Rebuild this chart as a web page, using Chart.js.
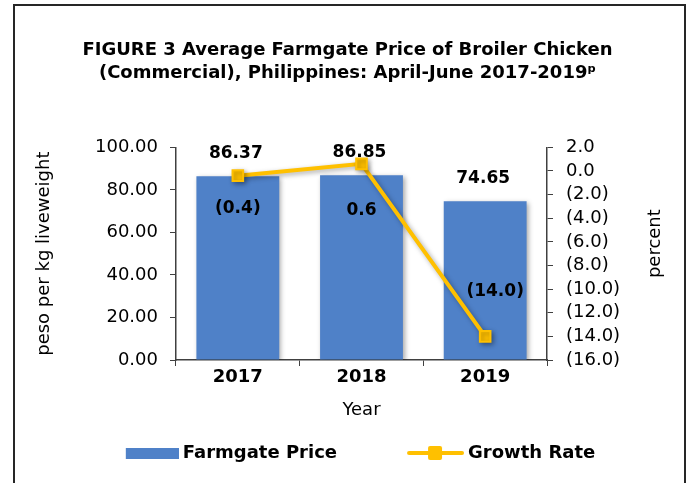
<!DOCTYPE html>
<html>
<head>
<meta charset="utf-8">
<script src="https://cdn.jsdelivr.net/npm/chart.js@4.4.1/dist/chart.umd.min.js"></script>
<style>
  html, body { margin: 0; padding: 0; background: #fff; }
  #wrap { position: relative; width: 695px; height: 483px; }
</style>
</head>
<body>
<div id="wrap"><canvas id="c" width="695" height="483"></canvas></div>
<script>
// ---- data ----
const categories = ['2017', '2018', '2019'];
const farmgatePrice = [86.37, 86.85, 74.65];
const growthRate = [-0.4, 0.6, -14.0];
const leftTicks = { min: 0, max: 100, step: 20 };
const rightTicks = { min: -16, max: 2, step: 2 };

const FONT = '"DejaVu Sans", "Liberation Sans", Arial, sans-serif';
const BAR_COLOR = '#4F81C8';
const LINE_COLOR = '#FFC000';

function fmtPct(v) {
  const s = Math.abs(v).toFixed(1);
  return v < 0 ? '(' + s + ')' : s;
}

// legend icons (content right-aligned, overflowing the box by 5px to tighten the text gap)
const ICON_W = 112;
function makeIcon(kind) {
  const W = ICON_W + 10;
  const c = document.createElement('canvas');
  c.width = W; c.height = 16;
  const g = c.getContext('2d');
  if (kind === 'bar') {
    g.fillStyle = BAR_COLOR;
    g.fillRect(W - 53, 3, 53, 11);
  } else {
    g.strokeStyle = LINE_COLOR; g.lineWidth = 4; g.lineCap = 'round';
    g.beginPath(); g.moveTo(W - 55, 8); g.lineTo(W - 2, 8); g.stroke();
    g.fillStyle = LINE_COLOR;
    g.beginPath();
    if (g.roundRect) g.roundRect(W - 36, 1, 14, 14, 2); else g.rect(W - 36, 1, 14, 14);
    g.fill();
  }
  return c;
}
const barIcon = makeIcon('bar');
const lineIcon = makeIcon('line');

const labelPlugin = {
  id: 'valueLabels',
  afterDatasetsDraw(chart) {
    const ctx = chart.ctx;
    ctx.save();
    ctx.font = 'bold 17px ' + FONT;
    ctx.fillStyle = '#000';
    ctx.textAlign = 'center';
    ctx.textBaseline = 'middle';
    const barMeta = chart.getDatasetMeta(0);
    barMeta.data.forEach((el, i) => {
      ctx.fillText(farmgatePrice[i].toFixed(2), el.x - 2, el.y - 23);
    });
    const lineMeta = chart.getDatasetMeta(1);
    const offs = [[0, 33], [0, 47], [10, -45]];
    lineMeta.data.forEach((el, i) => {
      ctx.fillText(fmtPct(growthRate[i]), el.x + offs[i][0], el.y + offs[i][1]);
    });
    ctx.restore();
  },
  afterDraw(chart) {
    const ctx = chart.ctx;
    ctx.save();
    const ys = chart.scales.y1;
    ctx.font = '18px ' + FONT;
    ctx.fillStyle = '#000';
    ctx.textAlign = 'center';
    ctx.textBaseline = 'middle';
    ctx.translate(655, (ys.top + ys.bottom) / 2 - 10);
    ctx.rotate(-Math.PI / 2);
    ctx.fillText('percent', 0, 0);
    ctx.restore();
    ctx.save();
    ctx.strokeStyle = '#262626';
    ctx.lineWidth = 2;
    ctx.strokeRect(14, 5, 671, 500);
    ctx.restore();
  },
  beforeDatasetDraw(chart) {
    const ctx = chart.ctx;
    ctx.save();
    ctx.shadowColor = 'rgba(0,0,0,0.35)';
    ctx.shadowBlur = 5;
    ctx.shadowOffsetX = 2;
    ctx.shadowOffsetY = 2;
  },
  afterDatasetDraw(chart) {
    chart.ctx.restore();
  },
  afterLayout(chart) {
    const dx = -19;
    if (chart.legend) { chart.legend.left += dx; chart.legend.right += dx; }
  }
};

new Chart(document.getElementById('c'), {
  data: {
    labels: categories,
    datasets: [
      {
        type: 'bar',
        label: 'Farmgate Price',
        data: farmgatePrice,
        backgroundColor: BAR_COLOR,
        yAxisID: 'y',
        order: 2,
        categoryPercentage: 1.0,
        barPercentage: 0.67
      },
      {
        type: 'line',
        label: 'Growth Rate',
        data: growthRate,
        borderColor: LINE_COLOR,
        backgroundColor: LINE_COLOR,
        borderWidth: 4,
        pointStyle: 'rect',
        pointRadius: 7.5,
        pointBorderWidth: 2,
        pointHoverRadius: 7.5,
        yAxisID: 'y1',
        order: 1,
        tension: 0
      }
    ]
  },
  options: {
    responsive: false,
    animation: false,
    devicePixelRatio: 1,
    layout: { padding: { left: 20, right: 20, top: 4, bottom: 11 } },
    plugins: {
      tooltip: { enabled: false },
      title: {
        display: true,
        text: ['FIGURE 3 Average Farmgate Price of Broiler Chicken', '(Commercial), Philippines: April-June 2017-2019ᵖ'],
        color: '#000',
        font: { family: FONT, size: 18, weight: 'bold', lineHeight: 1.3 },
        padding: { top: 34.5, bottom: 62 }
      },
      legend: {
        display: true,
        position: 'bottom',
        labels: {
          color: '#000',
          font: { family: FONT, size: 18, weight: 'bold' },
          usePointStyle: true,
          pointStyleWidth: ICON_W,
          padding: 10,
          generateLabels() {
            return [
              { text: 'Farmgate Price', pointStyle: barIcon, fillStyle: BAR_COLOR, strokeStyle: BAR_COLOR, lineWidth: 0, datasetIndex: 0 },
              { text: 'Growth Rate', pointStyle: lineIcon, fillStyle: LINE_COLOR, strokeStyle: LINE_COLOR, lineWidth: 0, datasetIndex: 1 }
            ];
          }
        }
      }
    },
    scales: {
      x: {
        grid: { display: true, drawOnChartArea: false, drawTicks: true, tickLength: 6, color: '#404040', offset: true },
        border: { display: true, color: '#404040', width: 1.5 },
        ticks: { color: '#000', font: { family: FONT, size: 18, weight: 'bold' }, padding: 1 },
        title: { display: true, text: 'Year', color: '#000', font: { family: FONT, size: 18 }, padding: { top: 4, bottom: 13 } },
        afterFit(scale) { scale.height = 74; }
      },
      y: {
        position: 'left',
        min: leftTicks.min, max: leftTicks.max,
        grid: { display: true, drawOnChartArea: false, drawTicks: true, tickLength: 6, color: '#404040' },
        border: { display: true, color: '#404040', width: 1.5 },
        ticks: {
          stepSize: leftTicks.step, color: '#000', padding: 12, autoSkip: false,
          font: { family: FONT, size: 18 },
          callback: v => Number(v).toFixed(2)
        },
        title: { display: true, text: 'peso per kg liveweight', color: '#000', font: { family: FONT, size: 18 }, padding: { top: 14, bottom: 0 } },
        afterFit(scale) { scale.width = 156; }
      },
      y1: {
        position: 'right',
        min: rightTicks.min, max: rightTicks.max,
        grid: { display: true, drawOnChartArea: false, drawTicks: true, tickLength: 6, color: '#404040' },
        border: { display: true, color: '#404040', width: 1.5 },
        ticks: {
          stepSize: rightTicks.step, color: '#000', padding: 13, autoSkip: false,
          font: { family: FONT, size: 18 },
          callback: v => fmtPct(v)
        },
        afterFit(scale) { scale.width = 128; }
      }
    }
  },
  plugins: [labelPlugin]
});
</script>
</body>
</html>
